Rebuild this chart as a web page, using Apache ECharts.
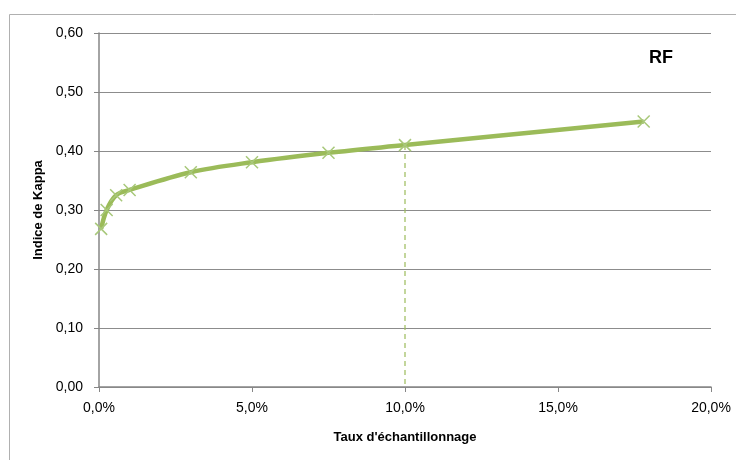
<!DOCTYPE html>
<html><head><meta charset="utf-8">
<script src="https://cdn.jsdelivr.net/npm/echarts@6/dist/echarts.min.js"></script>
<style>html,body{margin:0;padding:0;background:#fff}#c{width:736px;height:460px}</style>
</head><body><div id="c"></div>
<script>
const rates = [0.07, 0.25, 0.56, 1.0, 3.0, 5.0, 7.5, 10.0, 17.8];
const kappa = [0.268, 0.300, 0.325, 0.334, 0.364, 0.381, 0.397, 0.410, 0.450];
const guideX = [10.0, 10.0];
const guideY = [0.410, 0.0];
const seriesName = 'RF';
const xTitle = "Taux d'échantillonnage";
const yTitle = 'Indice de Kappa';

const fmtPct = v => v.toFixed(1).replace('.', ',') + '%';
const fmtNum = v => v.toFixed(2).replace('.', ',');
const font = 'Liberation Sans, Arial, sans-serif';

const chart = echarts.init(document.getElementById('c'), null, {renderer: 'canvas'});
chart.setOption({
  animation: false,
  backgroundColor: '#fff',
  graphic: [{
    type: 'rect', left: 7, top: 12, shape: {width: 760, height: 470},
    style: {fill: 'none', stroke: '#b0b0b0', lineWidth: 1}, silent: true, z: -1
  }],
  title: {
    text: seriesName, left: 644, top: 44,
    textStyle: {fontFamily: font, fontWeight: 'bold', fontSize: 18, color: '#000'}
  },
  grid: {left: 99, right: 25, top: 33, bottom: 73},
  xAxis: {
    type: 'value', min: 0, max: 20, interval: 5,
    name: xTitle, nameLocation: 'middle', nameGap: 44,
    nameTextStyle: {fontFamily: font, fontWeight: 'bold', fontSize: 13, color: '#000'},
    axisLine: {lineStyle: {color: '#868686', width: 1.5}},
    axisTick: {show: true, length: 5, lineStyle: {color: '#868686'}},
    axisLabel: {formatter: fmtPct, fontFamily: font, fontSize: 14, color: '#000', margin: 14},
    splitLine: {show: false}
  },
  yAxis: {
    type: 'value', min: 0, max: 0.6, interval: 0.1,
    name: yTitle, nameLocation: 'middle', nameGap: 53,
    nameTextStyle: {fontFamily: font, fontWeight: 'bold', fontSize: 13, color: '#000'},
    axisLine: {show: true, lineStyle: {color: '#868686', width: 1.5}},
    axisTick: {show: true, length: 5, lineStyle: {color: '#868686'}},
    axisLabel: {formatter: fmtNum, fontFamily: font, fontSize: 14, color: '#000', margin: 16},
    splitLine: {show: true, lineStyle: {color: '#8c8c8c', width: 1}}
  },
  series: [
    {
      type: 'line', name: 'guide', data: guideX.map((x, i) => [x, guideY[i]]),
      symbol: 'none', lineStyle: {color: '#9BBB59', width: 1.2, type: [5, 4]}, z: 1
    },
    {
      type: 'line', name: seriesName, data: rates.map((x, i) => [x, kappa[i]]),
      smooth: 0.35,
      lineStyle: {color: '#9BBB59', width: 4.5},
      symbol: 'path://M0,0 L10,10 M10,0 L0,10', symbolSize: 12,
      itemStyle: {color: 'rgba(0,0,0,0)', borderColor: '#a8c87a', borderWidth: 1.5},
      z: 3
    }
  ]
});
</script></body></html>
